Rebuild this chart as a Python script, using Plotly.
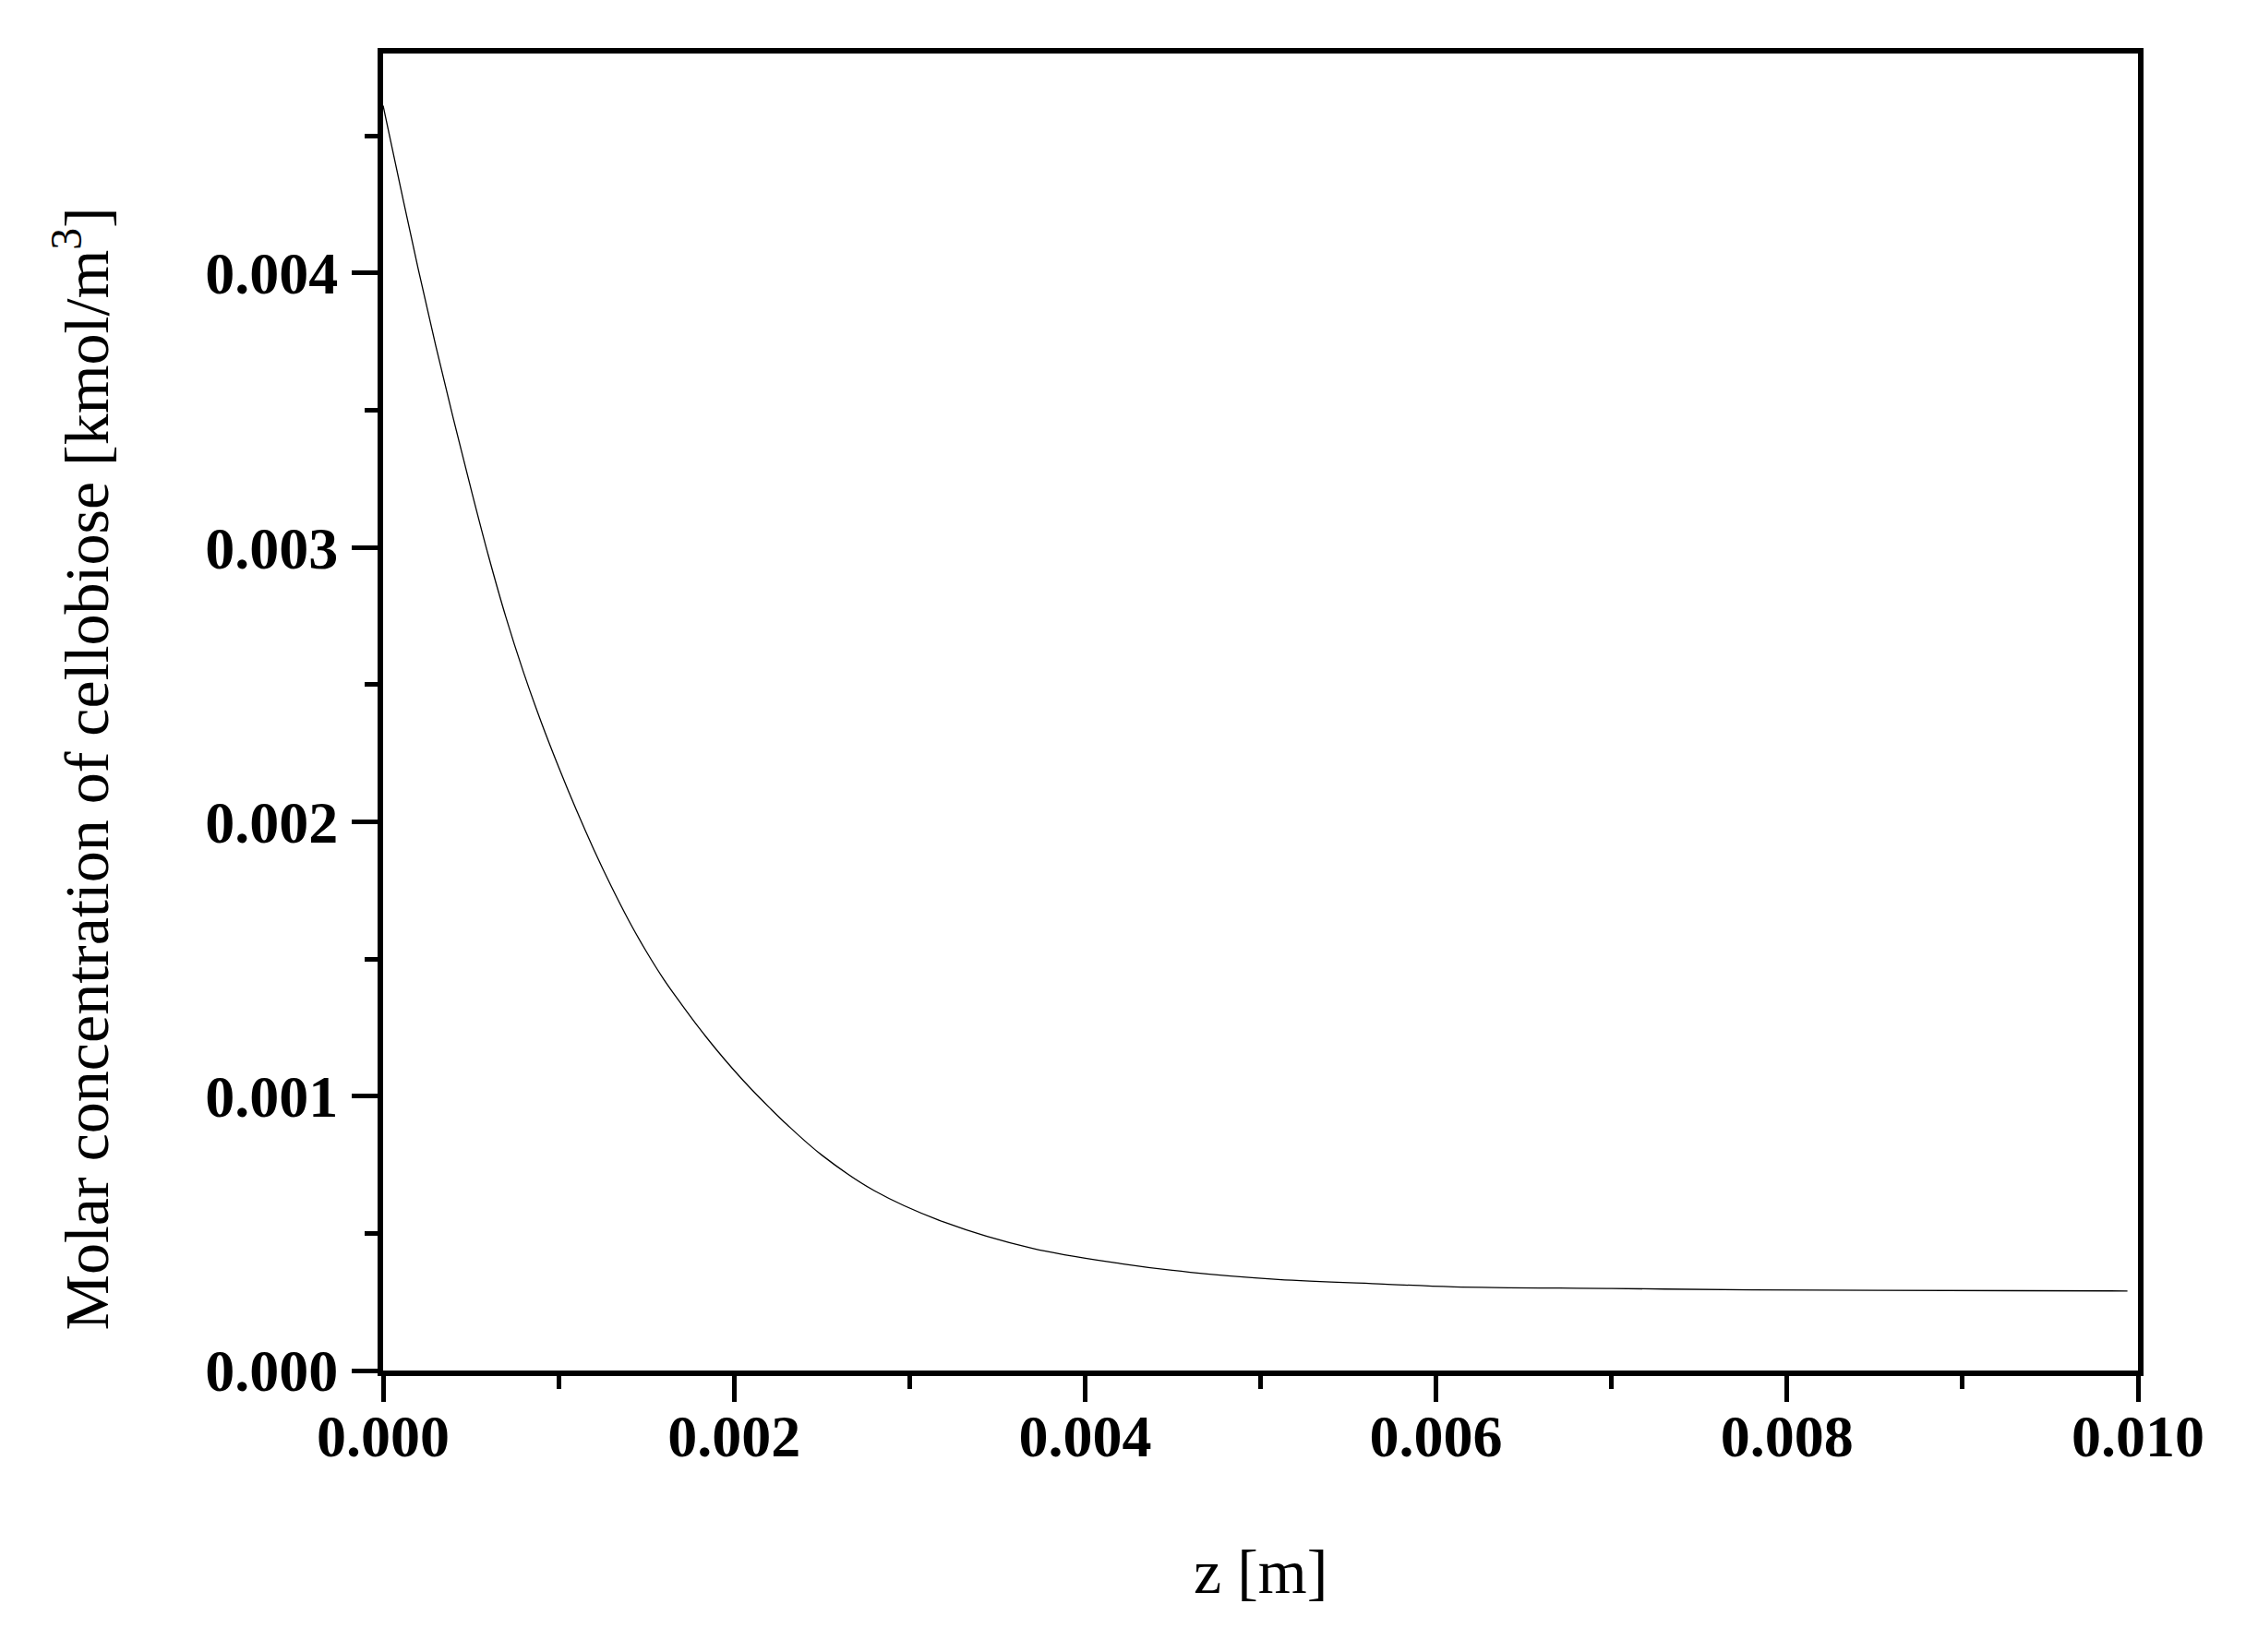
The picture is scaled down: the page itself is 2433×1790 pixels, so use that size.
import plotly.graph_objects as go

# Axial position z [m]
z_m = [0.0, 0.0001, 0.0002, 0.0003, 0.0004, 0.0005, 0.0006, 0.0007, 0.0008,
       0.0009, 0.0010, 0.0011, 0.0012, 0.0013, 0.0014, 0.0015, 0.0016, 0.0017,
       0.0018, 0.0019, 0.0020, 0.0021, 0.0022, 0.0023, 0.0025, 0.0028, 0.0032,
       0.0037, 0.0042, 0.0046, 0.0051, 0.0057, 0.0061, 0.0070, 0.0078, 0.0093,
       0.00994]
# Molar concentration of cellobiose [kmol/m3]
conc = [0.00461, 0.00431, 0.004015, 0.003735, 0.00347, 0.003215, 0.00297, 0.002745,
        0.002545, 0.002365, 0.00220, 0.002045, 0.00190, 0.001765, 0.00164, 0.001527,
        0.001425, 0.001335, 0.001249, 0.001169, 0.001094, 0.001024, 0.000959, 0.000897,
        0.000785, 0.000655, 0.000540, 0.000445, 0.000390, 0.000358, 0.000332,
        0.000315, 0.000305, 0.000299, 0.000294, 0.000291, 0.000290]

x_title = "z [m]"
y_title = "Molar concentration of cellobiose [kmol/m<sup>3</sup>]"

W, H = 2433, 1790
L, R, T, B = 407, 125, 50, 313
FONT = "Liberation Serif, Times New Roman, Times, serif"

fig = go.Figure()
fig.add_trace(go.Scatter(x=z_m, y=conc, mode="lines",
                         line=dict(color="black", width=1.3, shape="spline",
                                   smoothing=1.0),
                         showlegend=False))

tickfont = dict(family=FONT, size=64, color="black", weight="bold")
common = dict(showline=True, linewidth=6, linecolor="black", mirror=True,
              showgrid=False, zeroline=False, ticks="outside", ticklen=28,
              tickwidth=5, tickcolor="black", tickfont=tickfont,
              tickformat=".3f")

fig.update_xaxes(range=[0, 0.010], tick0=0, dtick=0.002, ticklabelstandoff=-18,
                 minor=dict(dtick=0.001, ticks="outside", ticklen=14, tickwidth=5,
                            tickcolor="black", showgrid=False),
                 **common)
fig.update_yaxes(range=[0, 0.0048], tick0=0, dtick=0.001, ticklabelstandoff=2,
                 minor=dict(dtick=0.0005, ticks="outside", ticklen=14, tickwidth=5,
                            tickcolor="black", showgrid=False),
                 **common)

fig.add_annotation(text=x_title, xref="paper", yref="paper", x=0.5, y=0,
                   xanchor="center", yanchor="middle", yshift=-218, showarrow=False,
                   font=dict(family=FONT, size=68, color="black"))
fig.add_annotation(text=y_title, xref="paper", yref="paper", x=0, y=0.5,
                   xanchor="center", yanchor="middle", xshift=-326, yshift=-62,
                   textangle=-90, showarrow=False,
                   font=dict(family=FONT, size=68, color="black"))

fig.update_layout(width=W, height=H, margin=dict(l=L, r=R, t=T, b=B),
                  paper_bgcolor="white", plot_bgcolor="white",
                  font=dict(family=FONT, color="black"))

fig.write_html("out.html")
